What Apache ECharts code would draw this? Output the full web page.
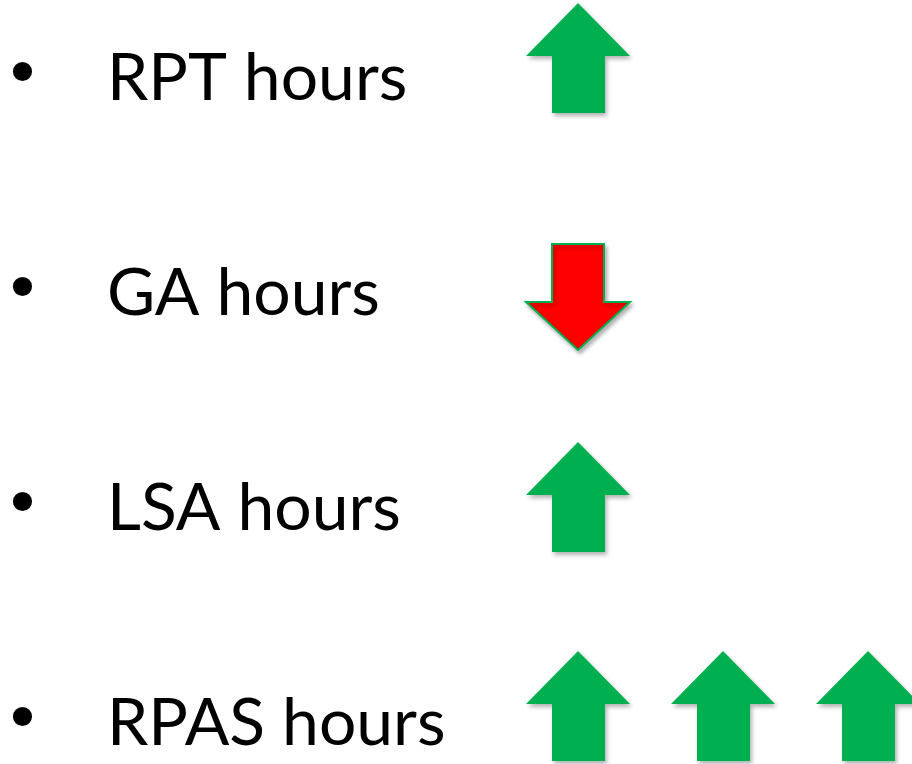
<!DOCTYPE html>
<html>
<head>
<meta charset="utf-8">
<script src="https://cdn.jsdelivr.net/npm/echarts@6/dist/echarts.min.js"></script>
<style>
  html, body { margin: 0; padding: 0; background: #fff; }
  #main { width: 912px; height: 764px; }
</style>
</head>
<body>
<div id="main"></div>
<script>
// 条目 / 箭头方向 / 箭头个数
var rows = ['RPT hours', 'GA hours', 'LSA hours', 'RPAS hours']
var arrowDir = ['up', 'down', 'up', 'up']
var arrowCount = [1, 1, 1, 3]

// 箭头的细微上下偏移 (px)
var nudge = [-21, 3, -12, -18]

var upPath = 'path://M52,0 L104,53 L79,53 L79,110 L26,110 L26,53 L0,53 Z'
var downPath = 'path://M26,0 L78,0 L78,58 L104,58 L52,106 L0,58 L26,58 Z'

var arrowData = []
rows.forEach(function (name, r) {
  for (var k = 1; k <= arrowCount[r]; k++) {
    var up = arrowDir[r] === 'up'
    arrowData.push({
      value: [k, name],
      symbol: up ? upPath : downPath,
      symbolSize: up ? [104, 110] : [104, 106],
      symbolOffset: [0, nudge[r]],
      itemStyle: up
        ? { color: '#00B050' }
        : { color: '#FF0000', borderColor: '#00B050', borderWidth: 2 }
    })
  }
})

var chart = echarts.init(document.getElementById('main'))
chart.setOption({
  animation: false,
  grid: { left: 433, right: 44, top: 79, bottom: 40, containLabel: false },
  xAxis: {
    type: 'value', min: 0, max: 3,
    show: false
  },
  yAxis: {
    type: 'category',
    data: rows,
    inverse: true,
    boundaryGap: false,
    axisLine: { show: false },
    axisTick: { show: false },
    splitLine: { show: false },
    axisLabel: {
      margin: 430,
      align: 'left',
      formatter: function (v) { return '{b|•}{t|' + v + '}' },
      rich: {
        b: { fontFamily: 'DejaVu Sans', fontSize: 66, color: '#000', width: 104, verticalAlign: 'middle' },
        t: { fontFamily: 'Lato', fontSize: 66, color: '#000', verticalAlign: 'middle' }
      }
    }
  },
  series: [{
    type: 'scatter',
    data: arrowData,
    itemStyle: {
      opacity: 1,
      shadowColor: 'rgba(0,0,0,0.3)',
      shadowBlur: 4,
      shadowOffsetX: 2,
      shadowOffsetY: 3
    },
    emphasis: { disabled: true }
  }]
})
</script>
</body>
</html>
